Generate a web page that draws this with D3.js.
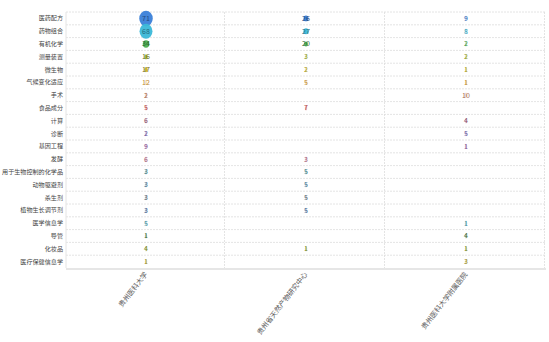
<!DOCTYPE html>
<html><head><meta charset="utf-8">
<script src="https://cdn.jsdelivr.net/npm/d3@7"></script>
<style>body{margin:0;background:#fff;} text{font-family:"Noto Sans CJK SC","Noto Sans",sans-serif;}</style>
</head><body><svg id="c" width="549" height="342"></svg>
<script>
const categories = ["医药配方","药物组合","有机化学","测量装置","微生物","气候变化适应","手术","食品成分","计算","诊断","基因工程","发酵","用于生物控制的化学品","动物驱避剂","杀生剂","植物生长调节剂","医学信息学","导管","化妆品","医疗保健信息学"];
const institutions = ["贵州医科大学","贵州省天然产物研究中心","贵州医科大学附属医院"];
const valuesGMU = [71,68,34,16,17,12,2,5,6,2,9,6,3,3,3,3,5,1,4,1];
const valuesNPRC = [26,27,20,3,2,5,null,7,null,null,null,3,5,5,5,5,null,null,1,null];
const valuesHosp = [9,8,2,2,1,1,10,null,4,5,1,null,null,null,null,null,1,4,1,3];
const rowColors = ["#3a7fd8","#3bb8d8","#4caf50","#a6b630","#c8b428","#e0a238","#c47a58","#d04848","#a46080","#7a62b4","#9a5ea6","#c07090","#3f8a96","#4a82a6","#667888","#4a72a8","#4aa2b4","#4a7e44","#8ea030","#b4a430"];

const series = [valuesGMU, valuesNPRC, valuesHosp];
const svg = d3.select("#c");
const pLeft = 66, pRight = 546, pTop = 12, pBottom = 268;
const x = d3.scaleBand().domain(institutions).range([pLeft, pRight]);
const y = d3.scaleBand().domain(categories).range([pTop, pBottom]);
const size = d3.scaleLinear().domain([0, 71]).range([0, 13.5]);

// grid
const g = svg.append("g");
categories.forEach((c,i)=>{
  g.append("line").attr("x1",pLeft).attr("x2",pRight).attr("y1",y(c)).attr("y2",y(c))
   .attr("stroke","#ddd").attr("stroke-dasharray","2,1").attr("stroke-width",0.8);
});
institutions.forEach(d=>{
  const xx = x(d)+x.bandwidth()-1.5;
  g.append("line").attr("x1",xx).attr("x2",xx).attr("y1",pTop).attr("y2",pBottom)
   .attr("stroke","#ddd").attr("stroke-dasharray","2,1").attr("stroke-width",0.8);
});
g.append("line").attr("x1",pLeft).attr("x2",pLeft).attr("y1",pTop).attr("y2",pBottom).attr("stroke","#e4e4e4").attr("stroke-width",1);
g.append("rect").attr("x",pLeft).attr("y",pBottom).attr("width",pRight-pLeft).attr("height",2).attr("fill","#e6e6e6");

// y axis
const yAxis = d3.axisLeft(y).tickSize(0).tickPadding(3);
const ya = svg.append("g").attr("transform",`translate(${pLeft},0)`).call(yAxis);
ya.select(".domain").remove();
ya.selectAll("text").attr("font-size",6.1).attr("fill","#444");

// x axis
const xAxis = d3.axisBottom(x).tickSize(0).tickPadding(0);
const xa = svg.append("g").attr("transform",`translate(0,${pBottom+5})`).call(xAxis);
xa.select(".domain").remove();
xa.selectAll("text").attr("font-size",7).attr("fill","#555")
  .attr("text-anchor","end").attr("dy","0.35em").attr("transform","rotate(-52)");

// bubbles
const cells = [];
series.forEach((vals,j)=>vals.forEach((v,i)=>{ if(v!=null) cells.push({i,j,v}); }));
const cg = svg.append("g");
cg.selectAll("ellipse").data(cells).join("ellipse")
  .attr("cx",d=>x(institutions[d.j])+x.bandwidth()/2)
  .attr("cy",d=>y(categories[d.i])+y.bandwidth()/2)
  .attr("rx",d=>Math.max(size(d.v)/2,1.2))
  .attr("ry",d=>Math.max(size(d.v)/2*1.15,2.6))
  .attr("fill",d=>rowColors[d.i]).attr("opacity",d=>d.v>15?0.95:0.3);
cg.selectAll("text").data(cells).join("text")
  .attr("x",d=>x(institutions[d.j])+x.bandwidth()/2)
  .attr("y",d=>y(categories[d.i])+y.bandwidth()/2)
  .attr("dy","0.35em").attr("text-anchor","middle").attr("font-size",7)
  .attr("fill",d=>d.v>15?d3.color(rowColors[d.i]).darker(1.5):d3.color(rowColors[d.i]).darker(0.5))
  .text(d=>d.v);
</script></body></html>
